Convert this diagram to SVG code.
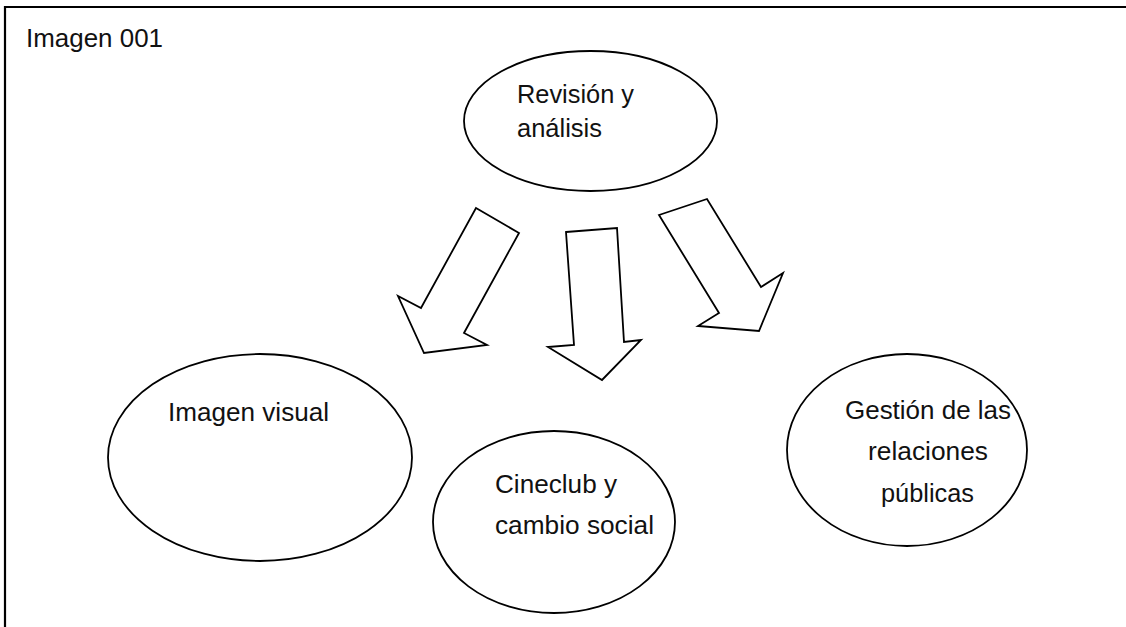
<svg xmlns="http://www.w3.org/2000/svg" width="1126" height="627" viewBox="0 0 1126 627">
<style>
.shape{fill:#fff;stroke:#000;stroke-width:1.8;stroke-linejoin:miter}
.t{font-family:"Liberation Sans",Arial,sans-serif;font-size:25px;fill:#111}
.frame{stroke:#000;stroke-width:2.2;fill:none}
</style>
<rect width="1126" height="627" fill="#fff"/>
<g id="frame">
<path class="frame" d="M5,627 V7 H1126"/>
<text class="t" x="26" y="47" textLength="137" lengthAdjust="spacingAndGlyphs">Imagen 001</text>
</g>
<g id="node-revision">
<ellipse class="shape" cx="590.5" cy="121" rx="126.5" ry="70"/>
<text class="t" x="517" y="103" textLength="117" lengthAdjust="spacingAndGlyphs">Revisión y</text>
<text class="t" x="517" y="137" textLength="85" lengthAdjust="spacingAndGlyphs">análisis</text>
</g>
<g id="connectors">
<polygon class="shape" points="476,208 519,233 464,333 487,345 424,353 398,296 421,308"/>
<polygon class="shape" points="566,232 617,228 624,342 641,340 602,380 548,347 574,345"/>
<polygon class="shape" points="659,215 707,199 761,287 783,273 759,331 698,326 719,313"/>
</g>
<g id="node-imagen-visual">
<ellipse class="shape" cx="260" cy="457.5" rx="152" ry="103.5"/>
<text class="t" x="168" y="421" textLength="161" lengthAdjust="spacingAndGlyphs">Imagen visual</text>
</g>
<g id="node-cineclub">
<ellipse class="shape" cx="554" cy="522" rx="121" ry="91"/>
<text class="t" x="495" y="493" textLength="122" lengthAdjust="spacingAndGlyphs">Cineclub y</text>
<text class="t" x="495" y="534" textLength="159" lengthAdjust="spacingAndGlyphs">cambio social</text>
</g>
<g id="node-gestion">
<ellipse class="shape" cx="907" cy="450" rx="120" ry="96"/>
<text class="t" x="845" y="419" textLength="166" lengthAdjust="spacingAndGlyphs">Gestión de las</text>
<text class="t" x="868" y="460" textLength="120" lengthAdjust="spacingAndGlyphs">relaciones</text>
<text class="t" x="881" y="502" textLength="93" lengthAdjust="spacingAndGlyphs">públicas</text>
</g>
</svg>
